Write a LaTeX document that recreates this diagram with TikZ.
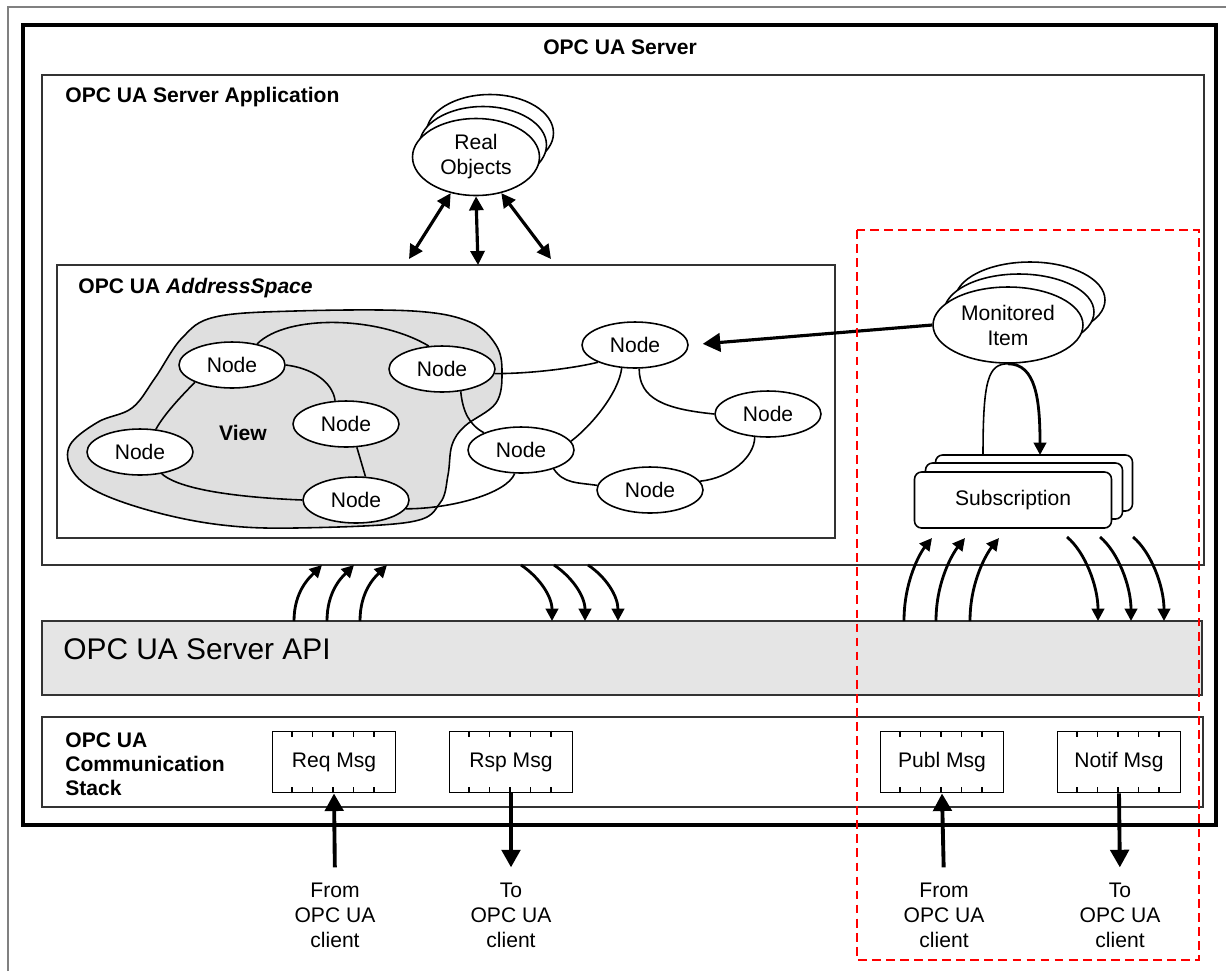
\documentclass[tikz,border=0pt]{standalone}
\usepackage{fontspec}
\setmainfont{Liberation Sans}
\usetikzlibrary{arrows.meta,shapes.geometric}

\begin{document}
\begin{tikzpicture}[x=0.02cm, y=-0.02cm,
    every node/.style={font=\fontsize{12}{14.2}\selectfont},
    cadre/.style={draw=black!80, line width=1.1pt},
    noeud/.style={ellipse, draw, line width=0.9pt, fill=white, minimum width=2.12cm, minimum height=0.92cm, inner sep=0pt},
    pile/.style={ellipse, draw, line width=0.9pt, fill=white, inner sep=0pt, align=center},
    lien/.style={line width=0.9pt},
    msg/.style={draw, line width=1.1pt, minimum width=2.46cm, minimum height=1.22cm, inner sep=0pt},
    client/.style={align=center, inner sep=0pt},
    fleche/.style={line width=1.6pt, -{Triangle[length=7pt,width=7pt]}},
    doublefleche/.style={line width=1.8pt, {Triangle[length=8pt,width=8pt]}-{Triangle[length=8pt,width=8pt]}},
    grossefleche/.style={line width=2.2pt, -{Triangle[length=10pt,width=10.5pt]}}]

      \useasboundingbox (0, 0) rectangle (1226, 971);

      % cadre exterieur
      \draw[gray, line width=0.8pt] (8, 971) -- (8, 7) -- (1226, 7);

      % serveur
      \draw[line width=1.8pt] (23, 25) rectangle (1216, 825);
      \node[font=\bfseries\fontsize{12}{14.2}\selectfont] (titre) at (620, 47) {OPC UA Server};

      % application serveur
      \draw[cadre] (42, 75) rectangle (1204, 565);
      \node[font=\bfseries\fontsize{12}{14.2}\selectfont, anchor=west, inner sep=0pt] (appli) at (65, 97) {OPC UA Server Application};

      % objets reels
      \node[pile, minimum width=2.54cm, minimum height=1.54cm] (reel3) at (490, 133) {};
      \node[pile, minimum width=2.54cm, minimum height=1.54cm] (reel2) at (483, 145) {};
      \node[pile, minimum width=2.54cm, minimum height=1.54cm] (reel) at (476, 157) {Real\\Objects};

      % espace d'adressage
      \draw[cadre] (57, 265) rectangle (835, 538);
      \node[font=\bfseries\fontsize{12}{14.2}\selectfont, anchor=west, inner sep=0pt] (espace) at (78, 288) {OPC UA \textit{AddressSpace}};

      \coordinate (as1) at (409, 259);
      \coordinate (as2) at (478, 265);
      \coordinate (as3) at (551, 259);
      \draw[doublefleche] (reel.235) -- (as1);
      \draw[doublefleche] (reel.south) -- (as2);
      \draw[doublefleche] (reel.305) -- (as3);

      % vue
      \draw[line width=0.9pt, fill=gray!25] plot[smooth cycle, tension=0.6] coordinates {(295, 311) (413, 311) (470, 322) (496, 345) (502, 372) (496, 403) (465, 426) (452, 445) (448, 475) (440, 503) (410, 522) (295, 528) (222, 525) (155, 512) (98, 492) (72, 470) (70, 445) (98, 422) (132, 408) (155, 378) (182, 338) (215, 317)};
      \node[font=\bfseries\fontsize{12}{14.2}\selectfont] (vue) at (243, 433) {View};

      % noeuds
      \node[noeud] (n1) at (232, 365) {Node};
      \node[noeud] (n2) at (140, 452) {Node};
      \node[noeud] (n3) at (442, 369) {Node};
      \node[noeud] (n4) at (346, 424) {Node};
      \node[noeud] (n5) at (356, 500) {Node};
      \node[noeud] (n6) at (521, 450) {Node};
      \node[noeud] (n7) at (635, 345) {Node};
      \node[noeud] (n8) at (768, 414) {Node};
      \node[noeud] (n9) at (650, 490) {Node};

      % references entre noeuds
      \draw[lien] (n1.40) .. controls +(30, -30) and +(-50, -30) .. (n3.120);
      \draw[lien] (n1.east) .. controls +(25, 3) and +(-3, -20) .. (n4.115);
      \draw[lien] (n1.205) .. controls +(-12, 12) and +(8, -15) .. (n2.55);
      \draw[lien] (n4.295) -- (n5.68);
      \draw[lien] (n2.315) .. controls +(20, 18) and +(-50, -2) .. (n5.west);
      \draw[lien] (n5.350) .. controls +(45, 0) and +(-8, 20) .. (n6.255);
      \draw[lien] (n3.355) .. controls +(40, 0) and +(-20, 5) .. (n7.205);
      \draw[lien] (n3.310) .. controls +(2, 20) and +(-15, -8) .. (n6.155);
      \draw[lien] (n7.240) .. controls +(-3, 25) and +(20, -15) .. (n6.10);
      \draw[lien] (n7.280) .. controls +(0, 30) and +(-50, -5) .. (n8.west);
      \draw[lien] (n6.330) .. controls +(10, 15) and +(-20, -3) .. (n9.175);
      \draw[lien] (n9.10) .. controls +(30, -3) and +(0, 20) .. (n8.240);

      % item surveille
      \node[pile, minimum width=3cm, minimum height=1.52cm] (mi3) at (1030, 300) {};
      \node[pile, minimum width=3cm, minimum height=1.52cm] (mi2) at (1019, 312) {};
      \node[pile, minimum width=3cm, minimum height=1.52cm] (mi) at (1008, 325) {Monitored\\Item};
      \draw[grossefleche, line width=1.8pt, shorten >=0.28cm] (mi.west) -- (n7.east);

      % abonnement
      \node[draw, line width=0.9pt, fill=white, rounded corners=4pt, minimum width=3.94cm, minimum height=1.12cm] (sub3) at (1034, 483) {};
      \node[draw, line width=0.9pt, fill=white, rounded corners=4pt, minimum width=3.94cm, minimum height=1.12cm] (sub2) at (1024, 491) {};
      \node[draw, line width=0.9pt, fill=white, rounded corners=4pt, minimum width=3.94cm, minimum height=1.12cm] (sub) at (1013, 500) {Subscription};

      \coordinate (bcl1) at (983, 455);
      \coordinate (bcl2) at (1040, 455);
      \draw[lien] (bcl1) .. controls +(0, -75) and +(-20, 0) .. (mi.south);
      \draw[fleche] (mi.south) .. controls +(28, 0) and +(0, -55) .. (bcl2);

      % API du serveur
      \draw[cadre, fill=gray!20] (42, 621) rectangle (1202, 695);
      \node[font=\fontsize{17}{20}\selectfont, anchor=west, inner sep=0pt] (api) at (63, 649) {OPC UA Server API};

      % pile de communication
      \draw[cadre] (42, 717) rectangle (1203, 807);
      \node[font=\bfseries\fontsize{12}{13.6}\selectfont, anchor=west, align=left, inner sep=0pt] (pilecom) at (65, 764) {OPC UA\\Communication\\Stack};

      % messages
      \node[msg] (req) at (334, 762) {Req Msg};
      \node[msg] (rsp) at (511, 762) {Rsp Msg};
      \node[msg] (publ) at (942, 762) {Publ Msg};
      \node[msg] (notif) at (1119, 762) {Notif Msg};
      \foreach \b in {req, rsp, publ, notif} {
        \foreach \t in {1, ..., 5} {
          \draw[line width=0.8pt] (\b.north west) ++(20.5*\t, 0) -- ++(0, 6);
          \draw[line width=0.8pt] (\b.south west) ++(20.5*\t, 0) -- ++(0, -6);
        }
      }

      % clients
      \node[client] (de1) at (335, 915) {From\\OPC UA\\client};
      \node[client] (vers1) at (511, 915) {To\\OPC UA\\client};
      \node[client] (de2) at (944, 915) {From\\OPC UA\\client};
      \node[client] (vers2) at (1120, 915) {To\\OPC UA\\client};
      \draw[grossefleche, shorten <=0.3cm] (de1.north) -- (req.south);
      \draw[grossefleche, shorten >=0.3cm] (rsp.south) -- (vers1.north);
      \draw[grossefleche, shorten <=0.3cm] (de2.north) -- (publ.south);
      \draw[grossefleche, shorten >=0.3cm] (notif.south) -- (vers2.north);

      % requetes montantes
      \coordinate (a1) at (294, 621);  \coordinate (b1) at (322, 565);
      \coordinate (a2) at (327, 621);  \coordinate (b2) at (354, 565);
      \coordinate (a3) at (360, 621);  \coordinate (b3) at (387, 565);
      \draw[fleche] (a1) .. controls +(0, -30) and +(-12, 12) .. (b1);
      \draw[fleche] (a2) .. controls +(0, -30) and +(-12, 12) .. (b2);
      \draw[fleche] (a3) .. controls +(0, -30) and +(-12, 12) .. (b3);

      % reponses descendantes
      \coordinate (c1) at (521, 565);  \coordinate (d1) at (552, 621);
      \coordinate (c2) at (554, 565);  \coordinate (d2) at (585, 621);
      \coordinate (c3) at (588, 565);  \coordinate (d3) at (618, 621);
      \draw[fleche] (c1) .. controls +(18, 12) and +(0, -25) .. (d1);
      \draw[fleche] (c2) .. controls +(18, 12) and +(0, -25) .. (d2);
      \draw[fleche] (c3) .. controls +(18, 12) and +(0, -25) .. (d3);

      % publications montantes
      \coordinate (e1) at (904, 621);  \coordinate (f1) at (932, 538);
      \coordinate (e2) at (936, 621);  \coordinate (f2) at (965, 538);
      \coordinate (e3) at (970, 621);  \coordinate (f3) at (999, 538);
      \draw[fleche] (e1) .. controls +(0, -40) and +(-12, 15) .. (f1);
      \draw[fleche] (e2) .. controls +(0, -40) and +(-12, 15) .. (f2);
      \draw[fleche] (e3) .. controls +(0, -40) and +(-12, 15) .. (f3);

      % notifications descendantes
      \coordinate (g1) at (1067, 537);  \coordinate (h1) at (1098, 621);
      \coordinate (g2) at (1100, 537);  \coordinate (h2) at (1131, 621);
      \coordinate (g3) at (1133, 537);  \coordinate (h3) at (1164, 621);
      \draw[fleche] (g1) .. controls +(18, 15) and +(0, -35) .. (h1);
      \draw[fleche] (g2) .. controls +(18, 15) and +(0, -35) .. (h2);
      \draw[fleche] (g3) .. controls +(18, 15) and +(0, -35) .. (h3);

      % zone abonnement
      \draw[red, line width=1.2pt, dash pattern=on 5pt off 3pt] (857, 230) rectangle (1199, 960);
    \end{tikzpicture}
\end{document}
